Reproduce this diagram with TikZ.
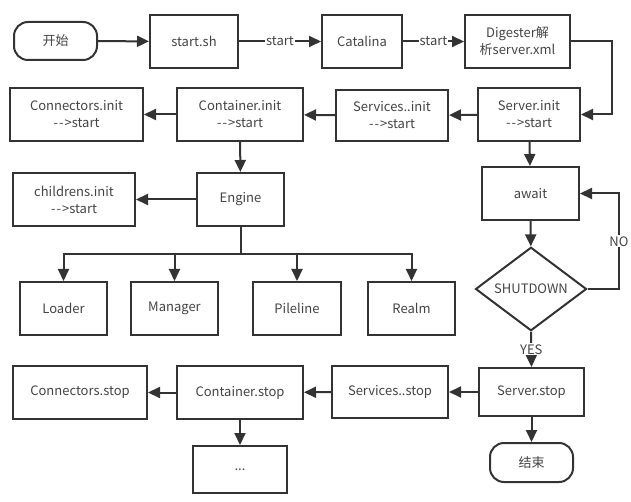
\documentclass[tikz,border=0pt]{standalone}
\usepackage{fontspec}
\setmainfont{Noto Sans CJK SC}
\usetikzlibrary{arrows.meta,shapes.geometric}
\definecolor{ln}{HTML}{333333}
\definecolor{tx}{HTML}{444444}
\newcommand\tostart{-\kern1pt-\kern1pt>start}
\begin{document}
\begin{tikzpicture}[x=1pt,y=-1pt,
  box/.style={draw=ln, line width=2pt, text=tx, align=center, inner sep=0pt, font=\fontsize{13}{17}\selectfont},
  bx/.style 2 args={box, minimum width=#1pt, minimum height=#2pt},
  term/.style={box, rounded corners=14pt},
  arr/.style={draw=ln, line width=2pt, -{Triangle[length=12pt,width=11pt]}},
  wire/.style={draw=ln, line width=2pt},
  lab/.style={fill=white, text=tx, inner sep=1pt, font=\fontsize{13}{16}\selectfont}]
\useasboundingbox (0,0) rectangle (631,502);
\fill[white] (0,0) rectangle (631,502);

% row 1
\node[term, minimum width=83pt, minimum height=38pt] (start) at (55.5,41) {开始};
\node[bx={88}{53}] (startsh) at (194,41.5) {start.sh};
\node[bx={80}{53}] (catalina) at (362,41.5) {Catalina};
\node[bx={105}{53}] (digester) at (517.5,41.5) {Digester解\\析server.xml};

% row 2
\node[bx={133}{53}] (conninit) at (76.5,114.5) {Connectors.init\\\tostart};
\node[bx={126}{53}] (continit) at (240,114.5) {Container.init\\\tostart};
\node[bx={112}{51}] (servicesinit) at (392,115.5) {Services..init\\\tostart};
\node[bx={102}{53}] (serverinit) at (529,114.5) {Server.init\\\tostart};

% row 3
\node[bx={122}{53}] (childrens) at (74,199.5) {childrens.init\\\tostart};
\node[bx={87}{53}] (engine) at (240.5,199.5) {Engine};
\node[bx={97}{53}] (await) at (530.5,193.5) {await};

% row 4
\node[bx={87}{53}] (loader) at (63.5,308.5) {Loader};
\node[bx={87}{53}] (manager) at (174.5,308.5) {Manager};
\node[bx={88}{53}] (pileline) at (297,308.5) {Pileline};
\node[bx={87}{53}] (realm) at (411.5,308.5) {Realm};
\node[box, diamond, minimum width=111pt, minimum height=76pt] (shutdown) at (531,289) {SHUTDOWN};

% row 5
\node[bx={134}{53}] (connstop) at (80,392.5) {Connectors.stop};
\node[bx={126}{53}] (contstop) at (240,392.5) {Container.stop};
\node[bx={116}{52}] (servicesstop) at (390,392) {Services..stop};
\node[bx={105}{48}] (serverstop) at (531.5,392) {Server.stop};

% row 6
\node[bx={94}{47}] (dots) at (240,469.5) {...};
\node[term, minimum width=83pt, minimum height=39pt] (end) at (531.5,462.5) {结束};

% connectors row 1
\draw[arr] (start) -- (startsh);
\draw[arr] (startsh) -- node[lab] {start} (catalina);
\draw[arr] (catalina) -- node[lab] {start} (digester);
\coordinate (dr) at (612,41.5);
\draw[arr] (digester.east) -- (dr) |- (serverinit.east);

% row 2
\draw[arr] (serverinit) -- (servicesinit);
\draw[arr] (servicesinit) -- (continit);
\draw[arr] (continit) -- (conninit);
\draw[arr] (continit) -- (engine);
\draw[arr] (engine) -- (childrens);

% tree
\coordinate (br) at (240.5,254);
\draw[wire] (engine.south) -- (br);
\draw[arr] (br) -| (loader.north);
\draw[arr] (br) -| (manager.north);
\draw[arr] (br) -| (pileline.north);
\draw[arr] (br) -| (realm.north);

% right column
\draw[arr] (serverinit) -- (await);
\draw[arr] (await) -- (shutdown);
\coordinate (nr) at (619,289);
\draw[arr] (shutdown.east) -- (nr) |- node[lab, pos=0.25] {NO} (await.east);
\draw[arr] (shutdown.south) -- node[lab, pos=0.5] {YES} (serverstop.north);
\draw[arr] (serverstop) -- (end);

% bottom row
\draw[arr] (serverstop) -- (servicesstop);
\draw[arr] (servicesstop) -- (contstop);
\draw[arr] (contstop) -- (connstop);
\draw[arr] (contstop) -- (dots);
\end{tikzpicture}
\end{document}
